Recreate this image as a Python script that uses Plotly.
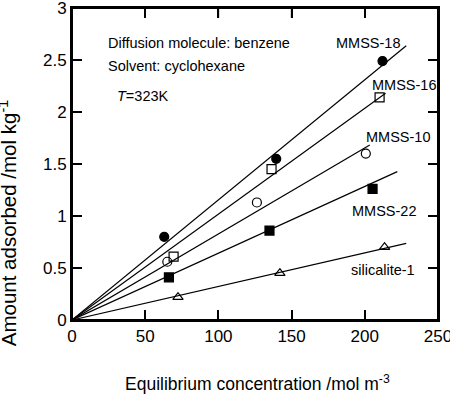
import plotly.graph_objects as go

# ---- data ----
series_names = ["MMSS-18", "MMSS-16", "MMSS-10", "MMSS-22", "silicalite-1"]
conc_mmss18 = [63.0, 139.5, 212.1]
ads_mmss18 = [0.80, 1.55, 2.49]
conc_mmss16 = [69.4, 136.3, 210.1]
ads_mmss16 = [0.61, 1.45, 2.14]
conc_mmss10 = [65.1, 126.3, 200.7]
ads_mmss10 = [0.56, 1.13, 1.60]
conc_mmss22 = [66.2, 134.9, 205.3]
ads_mmss22 = [0.41, 0.86, 1.26]
conc_sil = [72.4, 142.0, 213.5]
ads_sil = [0.22, 0.45, 0.70]

# linear fits through origin: slope and end of drawn line
fit_slopes = [0.01155, 0.01018, 0.00827, 0.00642, 0.00323]
fit_x_end = [228.3, 214.2, 203.4, 222.2, 228.3]

# label positions (data units)
label_x = [202.0, 227.0, 222.8, 213.3, 212.6]
label_y = [2.666, 2.26, 1.763, 1.051, 0.481]

x_ticks = [0, 50, 100, 150, 200, 250]
y_ticks = [0, 0.5, 1, 1.5, 2, 2.5, 3]
y_ticktext = ["0", "0.5", "1", "1.5", "2", "2.5", "3"]

FONT = "Liberation Sans, Arial, sans-serif"

xs = [conc_mmss18, conc_mmss16, conc_mmss10, conc_mmss22, conc_sil]
ys = [ads_mmss18, ads_mmss16, ads_mmss10, ads_mmss22, ads_sil]
symbols = ["circle", "square-open", "circle-open", "square", "triangle-up-open"]

fig = go.Figure()

for k in range(len(series_names)):
    fig.add_trace(go.Scatter(
        x=[0, fit_x_end[k]], y=[0, fit_slopes[k] * fit_x_end[k]],
        mode="lines", line=dict(color="black", width=1.2),
        showlegend=False, hoverinfo="skip", cliponaxis=False))

for k in range(len(series_names)):
    fig.add_trace(go.Scatter(
        x=xs[k], y=ys[k], mode="markers", name=series_names[k],
        marker=dict(symbol=symbols[k], size=9, color="black",
                    line=dict(color="black", width=1.2)),
        showlegend=False))

for k in range(len(series_names)):
    fig.add_annotation(x=label_x[k], y=label_y[k], text=series_names[k],
                       showarrow=False, xanchor="center", yanchor="middle",
                       font=dict(size=14.5, color="black", family=FONT))

fig.add_annotation(x=23.5, y=2.663, text="Diffusion molecule: benzene",
                   showarrow=False, xanchor="left", yanchor="middle",
                   font=dict(size=14.5, color="black", family=FONT))
fig.add_annotation(x=23.5, y=2.445, text="Solvent: cyclohexane",
                   showarrow=False, xanchor="left", yanchor="middle",
                   font=dict(size=14.5, color="black", family=FONT))
fig.add_annotation(x=29.2, y=2.154, text="<i>T</i>=323K",
                   showarrow=False, xanchor="left", yanchor="middle",
                   font=dict(size=14.5, color="black", family=FONT))

# axis titles
fig.add_annotation(xref="paper", yref="paper", x=0.508, y=-0.202,
                   text="Equilibrium concentration /mol m<sup>-3</sup>",
                   showarrow=False, xanchor="center", yanchor="middle",
                   font=dict(size=17.5, color="black", family=FONT))
fig.add_annotation(xref="paper", yref="paper", x=-0.175, y=0.31,
                   text="Amount adsorbed /mol kg<sup>-1</sup>", textangle=-90,
                   showarrow=False, xanchor="center", yanchor="middle",
                   font=dict(size=20.5, color="black", family=FONT))

# plot frame (box around the plotting area)
fig.add_shape(type="rect", xref="paper", yref="paper", x0=0, y0=0, x1=1, y1=1,
              line=dict(color="black", width=2), layer="above")

# mirrored inside ticks on the top and right edges, placed at the tick values
for tv in x_ticks[1:-1]:
    fig.add_shape(type="line", xref="x", yref="paper", x0=tv, x1=tv, y0=1,
                  y1=1 - 10 / 312, line=dict(color="black", width=1.5))
for tv in y_ticks[1:-1]:
    fig.add_shape(type="line", xref="paper", yref="y", x0=1, x1=1 - 10 / 366,
                  y0=tv, y1=tv, line=dict(color="black", width=1.5))

axis_common = dict(showgrid=False, zeroline=False, showline=True, mirror="ticks",
                   linecolor="black", linewidth=2, ticks="inside", ticklen=10,
                   tickwidth=1.5, tickcolor="black", automargin=False,
                   ticklabeloverflow="allow",
                   tickfont=dict(size=17, color="black", family=FONT))

fig.update_layout(
    xaxis=dict(range=[0, 250], tickvals=x_ticks, **axis_common),
    yaxis=dict(range=[0, 3], tickvals=y_ticks, ticktext=y_ticktext, **axis_common),
)

fig.update_layout(template="none", width=450, height=394,
                  margin=dict(l=72, r=12, t=8, b=74, autoexpand=False),
                  plot_bgcolor="white", paper_bgcolor="white",
                  showlegend=False)

fig.write_html("out.html", config={"displayModeBar": False},
               post_script="document.body.style.margin='0';document.body.style.padding='0';"
                           "document.body.style.overflow='hidden';"
                           "document.documentElement.style.overflow='hidden';")
